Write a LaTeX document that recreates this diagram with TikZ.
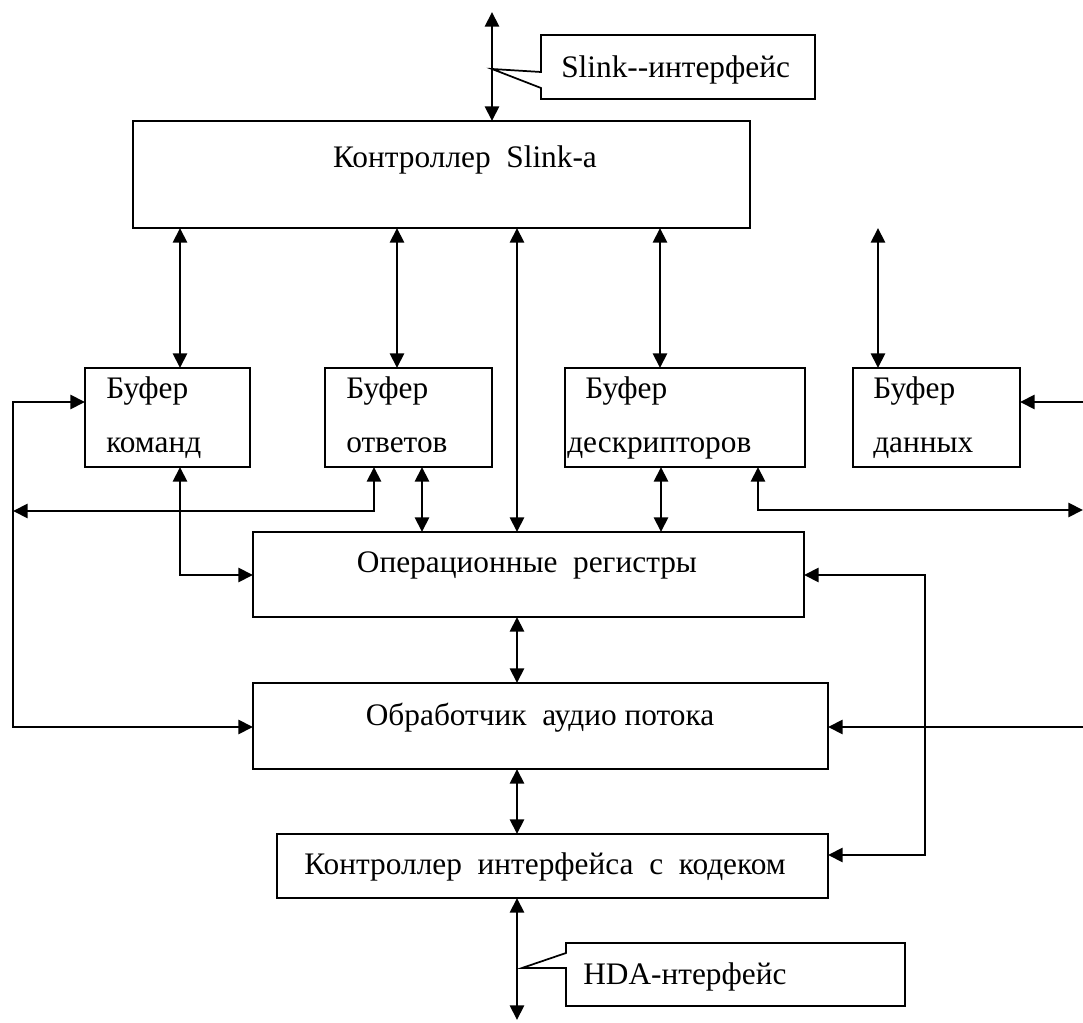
\documentclass[tikz,border=0pt]{standalone}
\usepackage{fontspec}
\setmainfont{Liberation Serif}
\usetikzlibrary{arrows.meta}
\begin{document}
\begin{tikzpicture}[x=0.75pt,y=-0.75pt,
  box/.style={draw, line width=1.5pt, inner sep=0pt, outer sep=0pt},
  lbl/.style={font=\fontsize{23.5}{28}\selectfont, inner sep=0pt},
  tip/.tip={Triangle[length=11pt,width=10.5pt]},
  link/.style={line width=2.1pt, tip-tip},
  feed/.style={line width=2.1pt, -tip},
  callout/.style={draw, line width=1.3pt, line join=miter}]
\useasboundingbox (0,0) rectangle (1083,1023);

% blocks
\node[box, minimum width=462.75pt, minimum height=80.25pt] (slink) at (441.5,174.5) {};
\node[box, minimum width=123.75pt, minimum height=74.25pt] (bcmd)  at (167.5,417.5) {};
\node[box, minimum width=125.25pt, minimum height=74.25pt] (bresp) at (408.5,417.5) {};
\node[box, minimum width=180pt,    minimum height=74.25pt] (bdesc) at (685,417.5) {};
\node[box, minimum width=125.25pt, minimum height=74.25pt] (bdata) at (936.5,417.5) {};
\node[box, minimum width=413.25pt, minimum height=63.75pt] (opreg) at (528.5,574.5) {};
\node[box, minimum width=431.25pt, minimum height=64.5pt]  (audio) at (540.5,726) {};
\node[box, minimum width=413.25pt, minimum height=48pt]    (codec) at (552.5,866) {};

% texts
\node[lbl, anchor=base] (tslink) at (465,168) {Контроллер\ \ Slink-a};
\node[lbl, anchor=base west] (tcmd1) at (106,399) {Буфер};
\node[lbl, anchor=base west] (tcmd2) at (106,453) {команд};
\node[lbl, anchor=base west] (tresp1) at (346,399) {Буфер};
\node[lbl, anchor=base west] (tresp2) at (346,453) {ответов};
\node[lbl, anchor=base west] (tdesc1) at (585,399) {Буфер};
\node[lbl, anchor=base west] (tdesc2) at (567,453) {дескрипторов};
\node[lbl, anchor=base west] (tdata1) at (873,399) {Буфер};
\node[lbl, anchor=base west] (tdata2) at (873,453) {данных};
\node[lbl, anchor=base] (topreg) at (527,573) {Операционные\ \ регистры};
\node[lbl, anchor=base] (taudio) at (540,725) {Обработчик\ \ аудио потока};
\node[lbl, anchor=base] (tcodec) at (545,874) {Контроллер\ \ интерфейса\ \ с\ \ кодеком};

% interface callouts
\draw[callout] (541,72) -- (492,69) -- (541,88) -- (541,99) -- (815,99) -- (815,35) -- (541,35) -- cycle;
\node[lbl, anchor=base west] (tslinkif) at (561,78) {Slink-{}-интерфейс};
\draw[callout] (566,953) -- (522,968) -- (566,968) -- (566,1006) -- (905,1006) -- (905,943) -- (566,943) -- cycle;
\node[lbl, anchor=base west] (thda) at (583,984) {HDA-нтерфейс};

% guide coordinates
\coordinate (top) at (492,12);
\coordinate (bot) at (517,1020);
\coordinate (c1) at (180,0);
\coordinate (c2) at (397,0);
\coordinate (c3) at (517,0);
\coordinate (c4) at (660,0);
\coordinate (c5) at (878,0);
\coordinate (r2) at (422,0);
\coordinate (d2) at (661,0);
\coordinate (ltop) at (13,402);
\coordinate (lbot) at (13,727);
\coordinate (lmid) at (13,511);
\coordinate (rk) at (374,511);
\coordinate (ck) at (180,575);
\coordinate (dk) at (758,510);
\coordinate (rmid) at (1083,510);
\coordinate (rtop) at (1083,402);
\coordinate (raud) at (1083,727);
\coordinate (rk1) at (925,575);
\coordinate (rk2) at (925,855);

% connectors
\draw[link] (top) -- (top |- slink.north);
\draw[link] (c1 |- slink.south) -- (c1 |- bcmd.north);
\draw[link] (c2 |- slink.south) -- (c2 |- bresp.north);
\draw[link] (c3 |- slink.south) -- (c3 |- opreg.north);
\draw[link] (c4 |- slink.south) -- (c4 |- bdesc.north);
\draw[link] (c5 |- slink.south) -- (c5 |- bdata.north);
\draw[link] (r2 |- bresp.south) -- (r2 |- opreg.north);
\draw[link] (d2 |- bdesc.south) -- (d2 |- opreg.north);
\draw[link] (bcmd.west |- ltop) -- (ltop) -- (lbot) -- (audio.west |- lbot);
\draw[link] (rk |- bresp.south) -- (rk) -- (lmid);
\draw[link] (ck |- bcmd.south) -- (ck) -- (opreg.west |- ck);
\draw[link] (dk |- bdesc.south) -- (dk) -- (rmid);
\draw[feed] (rtop) -- (bdata.east |- rtop);
\draw[feed] (raud) -- (audio.east |- raud);
\draw[link] (opreg.east |- rk1) -- (rk1) -- (rk2) -- (codec.east |- rk2);
\draw[link] (c3 |- opreg.south) -- (c3 |- audio.north);
\draw[link] (c3 |- audio.south) -- (c3 |- codec.north);
\draw[link] (c3 |- codec.south) -- (bot);
\end{tikzpicture}
\end{document}
